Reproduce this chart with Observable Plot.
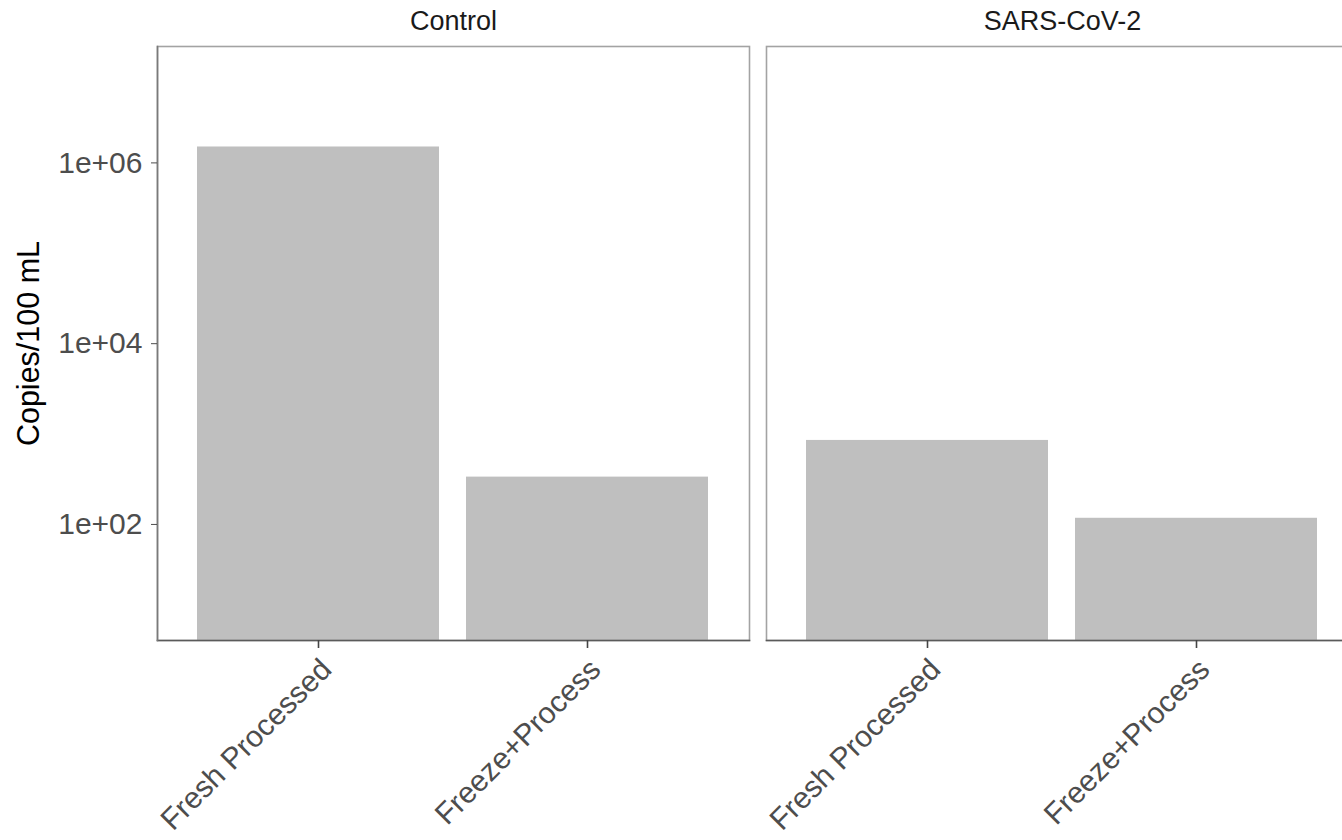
<!DOCTYPE html>
<html>
<head>
<meta charset="utf-8">
<script src="https://cdn.jsdelivr.net/npm/d3@7"></script>
<script src="https://cdn.jsdelivr.net/npm/@observablehq/plot@0.6"></script>
<style>
  html, body { margin: 0; padding: 0; background: #fff; overflow: hidden; }
  #chart { width: 1342px; height: 840px; overflow: hidden; }
  #chart svg { max-width: none !important; }
</style>
</head>
<body>
<div id="chart"></div>
<script>
const groups = ["Control", "SARS-CoV-2"];
const conditions = ["Fresh Processed", "Freeze+Process"];
const controlValues = [1.5e6, 334];
const sarsValues = [850, 117];
const yTicks = [1e2, 1e4, 1e6];
const yTickLabels = ["1e+02", "1e+04", "1e+06"];
const yDomain = [5.2, 1.94e7];
const yLabel = "Copies/100 mL";

const data = [];
conditions.forEach((c, i) => data.push({group: groups[0], condition: c, value: controlValues[i]}));
conditions.forEach((c, i) => data.push({group: groups[1], condition: c, value: sarsValues[i]}));

const font = "'Liberation Sans', Arial, Helvetica, sans-serif";

const chart = Plot.plot({
  width: 1360,
  height: 840,
  marginLeft: 157,
  marginRight: 1,
  marginTop: 46,
  marginBottom: 200,
  style: {fontFamily: font, background: "#fff", maxWidth: "none"},
  fx: {domain: groups, paddingInner: 17 / 610, paddingOuter: 0, label: null},
  x: {domain: conditions, paddingInner: 0.1, paddingOuter: 0.15, label: null},
  y: {type: "log", domain: yDomain, label: null},
  marks: [
    Plot.barY(data, {fx: "group", x: "condition", y1: yDomain[0], y2: "value", fill: "#bfbfbf"}),
    Plot.frame({stroke: "#a3a3a3", strokeWidth: 1.6}),
    Plot.frame({anchor: "bottom", stroke: "#5a5a5a", strokeWidth: 1.6}),
    Plot.frame({anchor: "left", stroke: "#7a7a7a", strokeWidth: 1.6, facetAnchor: "left"}),
    Plot.axisY({
      ticks: yTicks,
      tickFormat: (d) => yTickLabels[yTicks.indexOf(d)],
      tickSize: 6, tickPadding: 9, fontSize: 30, color: "#4d4d4d"
    }),
    Plot.axisY({
      ticks: [], tickSize: 0, fontSize: 30.5, color: "#000",
      label: yLabel, labelAnchor: "center", labelArrow: "none", labelOffset: 140
    }),
    Plot.axisX({
      tickSize: 8, tickFormat: () => "", stroke: "#444", strokeWidth: 1.6, label: null
    }),
    Plot.axisX({
      tickRotate: -45, tickSize: 0, tickPadding: 10, fontSize: 30, color: "#4d4d4d", label: null, dy: 14, dx: 8
    }),
    Plot.axisFx({anchor: "top", tickSize: 0, tickPadding: 17, fontSize: 27, color: "#1a1a1a", label: null})
  ]
});
document.getElementById("chart").appendChild(chart);
</script>
</body>
</html>
